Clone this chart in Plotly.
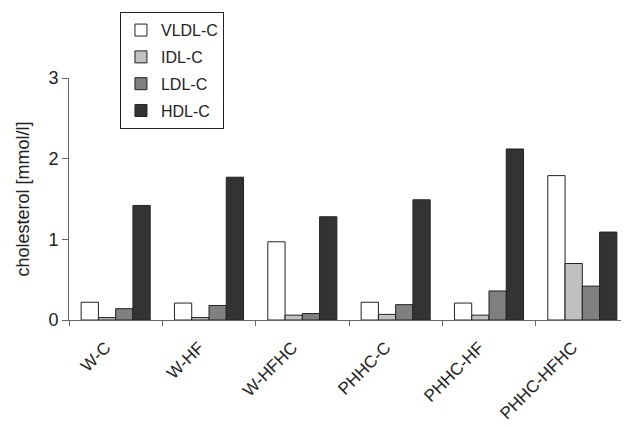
import plotly.graph_objects as go

categories = ["W-C", "W-HF", "W-HFHC", "PHHC-C", "PHHC-HF", "PHHC-HFHC"]
series_names = ["VLDL-C", "IDL-C", "LDL-C", "HDL-C"]
vldl = [0.22, 0.21, 0.97, 0.22, 0.21, 1.79]
idl = [0.03, 0.03, 0.06, 0.07, 0.06, 0.70]
ldl = [0.14, 0.18, 0.08, 0.19, 0.36, 0.42]
hdl = [1.42, 1.77, 1.28, 1.49, 2.12, 1.09]
y_ticks = [0, 1, 2, 3]

colors = ["#ffffff", "#c0c0c0", "#808080", "#333333"]
values = [vldl, idl, ldl, hdl]

font_family = "Arial, Liberation Sans, sans-serif"

fig = go.Figure()
for name, vals, col in zip(series_names, values, colors):
    fig.add_trace(go.Bar(
        x=categories, y=vals, name=name, legendgroup=name,
        marker=dict(color=col, line=dict(color="#222222", width=1)),
    ))

fig.update_layout(
    width=621, height=420,
    margin=dict(l=61, r=0, t=70, b=108),
    paper_bgcolor="white", plot_bgcolor="white",
    barmode="group", bargap=0.26, bargroupgap=0,
    font=dict(family=font_family, color="#222222"),
    showlegend=True,
    legend=dict(
        x=0.091, y=1.272, xanchor="left", yanchor="top",
        bgcolor="white", bordercolor="#222222", borderwidth=1,
        font=dict(size=16, family=font_family, color="#222222"),
        traceorder="grouped", tracegroupgap=3, itemwidth=30,
    ),
    xaxis=dict(
        showline=True, linecolor="#666666", linewidth=1,
        ticks="outside", ticklen=5, tickcolor="#666666",
        tickson="boundaries", tickangle=-45,
        tickfont=dict(size=17, family=font_family, color="#222222"),
        ticklabelstandoff=10, ticklabelshift=-10,
        showgrid=False, zeroline=False,
    ),
    yaxis=dict(
        range=[0, 3], tickvals=y_ticks,
        showline=True, linecolor="#666666", linewidth=1,
        ticks="outside", ticklen=6, tickcolor="#666666",
        tickfont=dict(size=18, family=font_family, color="#222222"),
        showgrid=False, zeroline=False,
        title=dict(text="cholesterol [mmol/l]", font=dict(size=18, family=font_family, color="#222222"), standoff=14),
    ),
)

fig.write_html("out.html")
